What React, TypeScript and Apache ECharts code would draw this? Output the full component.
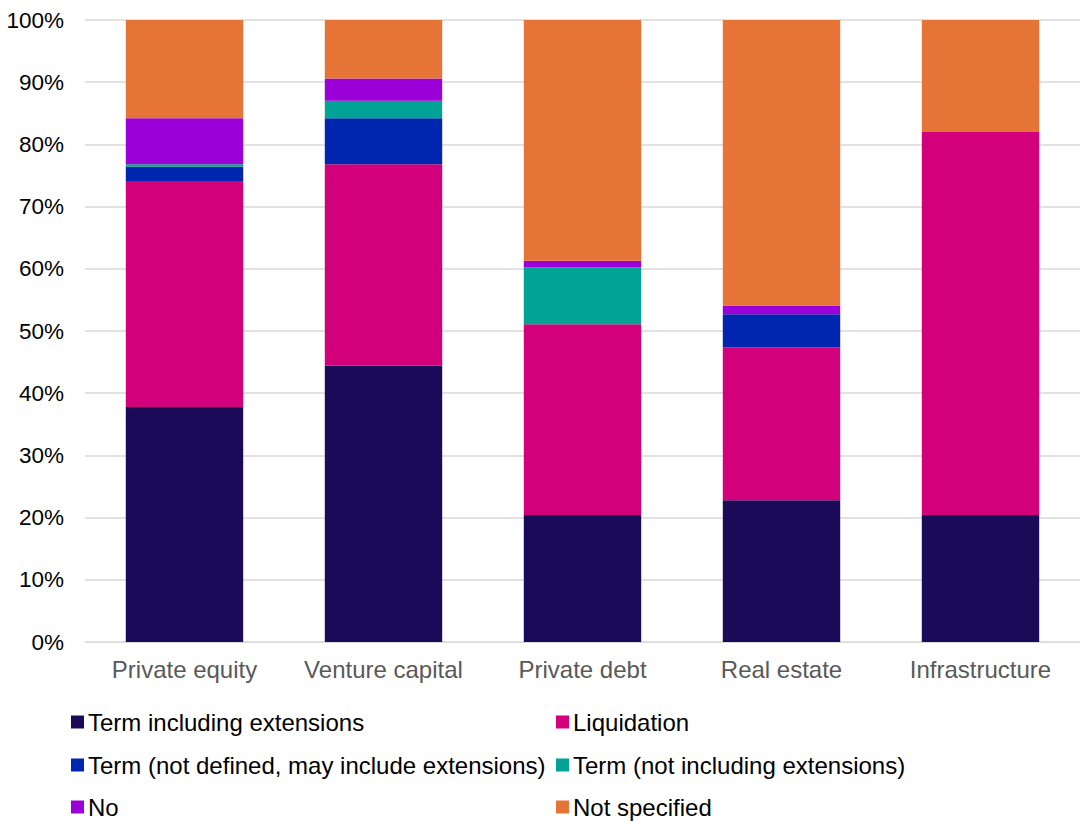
import React, { useEffect, useRef } from "react";
import * as echarts from "echarts";

const categories = ["Private equity", "Venture capital", "Private debt", "Real estate", "Infrastructure"];
const seriesNames = [
  "Term including extensions",
  "Liquidation",
  "Term (not defined, may include extensions)",
  "Term (not including extensions)",
  "No",
  "Not specified",
];
const termIncl = [37.8, 44.4, 20.4, 22.8, 20.4];
const liquidation = [36.3, 32.4, 30.7, 24.6, 61.6];
const termNotDefined = [2.3, 7.4, 0, 5.3, 0];
const termNotIncl = [0.4, 2.8, 9.1, 0, 0];
const noValues = [7.4, 3.6, 1.1, 1.4, 0];
const notSpecified = [15.8, 9.4, 38.7, 45.9, 18.0];
const colors = ["#1B0A57", "#D2007A", "#0026B0", "#00A396", "#9C00D8", "#E77437"];
const yTicks = [0, 10, 20, 30, 40, 50, 60, 70, 80, 90, 100];

const allValues = [termIncl, liquidation, termNotDefined, termNotIncl, noValues, notSpecified];

export default function App() {
  const ref = useRef<HTMLDivElement>(null);
  useEffect(() => {
    if (!ref.current) return;
    const chart = echarts.init(ref.current, undefined, { renderer: "svg" });
    const font = "'Liberation Sans', Arial, sans-serif";
    const legendPos = [
      { left: 71, top: 710 },
      { left: 556, top: 710 },
      { left: 71, top: 753 },
      { left: 556, top: 753 },
      { left: 71, top: 795 },
      { left: 556, top: 795 },
    ];
    chart.setOption({
      animation: false,
      grid: { left: 85, right: 9, top: 20, bottom: 179, containLabel: false },
      xAxis: {
        type: "category",
        data: categories,
        axisLine: { lineStyle: { color: "#D9D9D9", width: 1 } },
        axisTick: { show: false },
        axisLabel: { color: "#595959", fontSize: 24, fontFamily: font, margin: 15, interval: 0, hideOverlap: false },
      },
      yAxis: {
        type: "value",
        min: yTicks[0],
        max: yTicks[yTicks.length - 1],
        interval: 10,
        axisLine: { show: false },
        axisTick: { show: false },
        splitLine: { lineStyle: { color: "#D9D9D9", width: 1.5 } },
        axisLabel: { color: "#000000", fontSize: 22.5, fontFamily: font, margin: 21, formatter: "{value}%" },
      },
      legend: seriesNames.map((n, i) => ({
        data: [n],
        left: legendPos[i].left,
        top: legendPos[i].top,
        itemWidth: 13,
        itemHeight: 13,
        icon: "rect",
        padding: 0,
        textStyle: { color: "#000", fontSize: 24, fontFamily: font, padding: [0, 0, 0, -1] },
      })),
      series: seriesNames.map((n, i) => ({
        name: n,
        type: "bar",
        stack: "total",
        barWidth: "59%",
        data: allValues[i],
        itemStyle: { color: colors[i] },
      })),
    });
    return () => chart.dispose();
  }, []);
  return <div ref={ref} style={{ width: 1089, height: 821, position: "absolute", left: 0, top: 0 }} />;
}
